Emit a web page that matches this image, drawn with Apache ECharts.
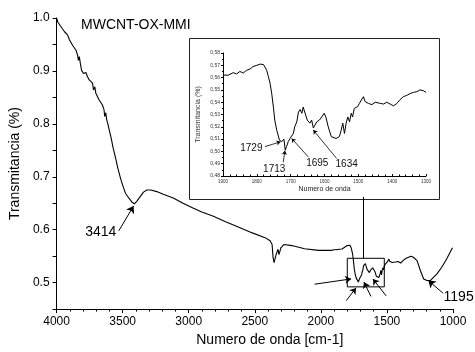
<!DOCTYPE html>
<html>
<head>
<meta charset="utf-8">
<script src="https://cdn.jsdelivr.net/npm/echarts@6/dist/echarts.min.js"></script>
<style>
  html, body { margin: 0; padding: 0; background: #fff; }
  #chart { width: 475px; height: 352px; }
</style>
</head>
<body>
<div id="chart"></div>
<script>
// FTIR spectrum [wavenumber cm-1, transmittance]
const spectrum = [
  [4000, 1.000], [3990, 0.992], [3965, 0.983], [3940, 0.974], [3920, 0.969], [3910, 0.964],
  [3903, 0.959], [3890, 0.958], [3878, 0.948], [3865, 0.950], [3853, 0.939], [3841, 0.930],
  [3835, 0.920], [3828, 0.927], [3820, 0.914], [3811, 0.901], [3796, 0.895], [3785, 0.892],
  [3778, 0.897], [3766, 0.889], [3753, 0.883], [3740, 0.886], [3728, 0.877], [3721, 0.864],
  [3711, 0.870], [3703, 0.858], [3691, 0.855], [3678, 0.845], [3666, 0.842], [3654, 0.836],
  [3641, 0.827], [3636, 0.814], [3628, 0.821], [3621, 0.808], [3611, 0.799], [3604, 0.791],
  [3586, 0.772], [3571, 0.753], [3553, 0.735], [3536, 0.716], [3516, 0.697], [3497, 0.682],
  [3479, 0.669], [3454, 0.660], [3429, 0.652], [3411, 0.649], [3392, 0.654], [3366, 0.663],
  [3342, 0.671], [3317, 0.675], [3287, 0.675], [3242, 0.672], [3192, 0.667], [3117, 0.660],
  [3043, 0.650], [2968, 0.641], [2906, 0.634], [2818, 0.626], [2721, 0.615], [2616, 0.604],
  [2519, 0.594], [2422, 0.585], [2384, 0.579], [2369, 0.572], [2362, 0.548], [2354, 0.538],
  [2339, 0.553], [2324, 0.563], [2317, 0.553], [2302, 0.566], [2280, 0.572], [2220, 0.570],
  [2123, 0.564], [2018, 0.561], [1921, 0.561],
  [1900, 0.562], [1884, 0.562], [1870, 0.564], [1860, 0.563], [1850, 0.565], [1840, 0.5637],
  [1830, 0.566], [1820, 0.567], [1811, 0.569], [1800, 0.570], [1790, 0.571], [1780, 0.5705],
  [1776, 0.572], [1771, 0.566], [1766, 0.561], [1761, 0.5555], [1756, 0.547], [1751, 0.536],
  [1747, 0.5255], [1741, 0.517], [1733, 0.509], [1726, 0.508], [1720, 0.510], [1716, 0.501],
  [1712, 0.504], [1707, 0.508], [1702, 0.5105], [1697, 0.510], [1692, 0.5146], [1688, 0.520],
  [1682, 0.524], [1677, 0.532], [1672, 0.534], [1667, 0.531], [1663, 0.536], [1658, 0.535],
  [1651, 0.5255], [1643, 0.523], [1638, 0.5255], [1633, 0.519], [1623, 0.524], [1615, 0.5255],
  [1608, 0.528], [1601, 0.531], [1596, 0.528], [1589, 0.520], [1580, 0.512], [1576, 0.5105],
  [1566, 0.5105], [1561, 0.5097], [1556, 0.512], [1551, 0.517], [1546, 0.523], [1541, 0.5146],
  [1536, 0.523], [1531, 0.528], [1526, 0.524], [1521, 0.531], [1517, 0.528], [1512, 0.535],
  [1507, 0.534], [1502, 0.5364], [1497, 0.539], [1492, 0.5405], [1485, 0.5445], [1480, 0.5405],
  [1475, 0.542], [1470, 0.539], [1465, 0.5405], [1460, 0.538], [1450, 0.540], [1435, 0.539],
  [1425, 0.5385], [1416, 0.540], [1406, 0.5385], [1396, 0.537], [1386, 0.539], [1377, 0.542],
  [1367, 0.5445], [1357, 0.5455], [1347, 0.547], [1337, 0.548], [1327, 0.5486], [1318, 0.550],
  [1308, 0.5494], [1300, 0.548],
  [1272, 0.5415], [1247, 0.523], [1222, 0.507], [1197, 0.504], [1172, 0.504], [1148, 0.510],
  [1123, 0.516], [1085, 0.529], [1048, 0.5445], [1010, 0.563], [1003, 0.566]
];

// main plot annotations: arrow from label -> peak
const mainPeaks = [
  { label: '3414', from: [3529, 0.598], to: [3417, 0.645] },
  { label: '1195', from: [1075, 0.480], to: [1187, 0.504] }
];
// unlabeled arrows around the zoom box
const boxArrows = [
  { from: [2048, 0.497], to: [1771, 0.507] },
  { from: [1808, 0.466], to: [1734, 0.490] },
  { from: [1621, 0.474], to: [1674, 0.501] },
  { from: [1506, 0.475], to: [1606, 0.507] }
];
// zoomed region shown in the inset
const zoomBox = [[1800, 0.546], [1520, 0.492]];
const linkLine = [[1676, 0.546], [1676, 0.662]];

// inset annotations
const insetPeaks = [
  { label: '1729', from: [1776, 0.5039], to: [1730, 0.5078] },
  { label: '1713', from: [1722, 0.4911], to: [1717, 0.5006] },
  { label: '1695', from: [1648, 0.4955], to: [1697, 0.5105] },
  { label: '1634', from: [1564, 0.4942], to: [1633, 0.5173] }
];

const FONT = 'Liberation Sans, Arial, sans-serif';
const insetData = spectrum.filter((p) => p[0] >= 1290 && p[0] <= 1910);

// where each label sits relative to its arrow tail
const mainLabelPos = {
  '3414': { position: 'left', distance: 2, offset: [0, 1] },
  '1195': { position: 'right', distance: 0, offset: [0, 4] }
};
const insetLabelPos = {
  '1729': { position: 'left', distance: 2, offset: [0, 2] },
  '1713': { position: 'bottom', distance: 1, offset: [-9, 0] },
  '1695': { position: 'bottom', distance: 1, offset: [9, 0] },
  '1634': { position: 'bottom', distance: 0, offset: [10, 0] }
};

const arrowPair = (a, size) => [
  { coord: a.from, symbol: 'none' },
  { coord: a.to, symbol: 'arrow', symbolSize: size }
];

const chart = echarts.init(document.getElementById('chart'), null, { renderer: 'canvas' });

chart.setOption({
  animation: false,
  backgroundColor: '#fff',
  textStyle: { fontFamily: FONT },
  title: {
    text: 'MWCNT-OX-MMI',
    left: 76,
    top: 13,
    textStyle: { fontSize: 14, fontWeight: 'normal', color: '#000', fontFamily: FONT }
  },
  grid: [
    { left: 52, right: 22, top: 18, bottom: 39 },
    { left: 223, right: 49, top: 53, bottom: 176 }
  ],
  graphic: [
    {
      type: 'rect',
      shape: { x: 189.5, y: 38.5, width: 250, height: 161 },
      style: { fill: 'none', stroke: '#222', lineWidth: 1 }
    }
  ],
  xAxis: [
    {
      gridIndex: 0,
      type: 'value',
      min: 1000,
      max: 4000,
      interval: 500,
      inverse: true,
      name: 'Numero de onda [cm-1]',
      nameLocation: 'middle',
      nameGap: 17,
      nameTextStyle: { fontSize: 14, color: '#000', padding: [0, 0, 0, 30] },
      axisLine: { lineStyle: { color: '#000', width: 1 } },
      axisTick: { length: 4, lineStyle: { color: '#000' } },
      minorTick: { show: true, splitNumber: 5, length: 2.5, lineStyle: { color: '#000' } },
      axisLabel: { fontSize: 12, color: '#000', margin: 7, formatter: (v) => String(v) },
      splitLine: { show: false }
    },
    {
      gridIndex: 1,
      type: 'value',
      min: 1300,
      max: 1900,
      interval: 100,
      inverse: true,
      name: 'Numero de onda',
      nameLocation: 'middle',
      nameGap: 10,
      nameTextStyle: { fontSize: 7, color: '#222' },
      axisLine: { lineStyle: { color: '#000', width: 1 } },
      axisTick: { inside: true, length: 2, lineStyle: { color: '#000' } },
      minorTick: { show: true, splitNumber: 5, length: 1.5, lineStyle: { color: '#000' } },
      axisLabel: { fontSize: 4.5, color: '#333', margin: 3, formatter: (v) => String(v) },
      splitLine: { show: false }
    }
  ],
  yAxis: [
    {
      gridIndex: 0,
      type: 'value',
      min: 0.45,
      max: 1.0,
      interval: 0.05,
      name: 'Transmitancia (%)',
      nameLocation: 'middle',
      nameGap: 28,
      nameTextStyle: { fontSize: 14, color: '#000' },
      axisLine: { show: true, lineStyle: { color: '#000', width: 1 } },
      axisTick: { show: true, length: 4, lineStyle: { color: '#000' } },
      axisLabel: {
        fontSize: 12,
        color: '#000',
        margin: 7,
        formatter: (v) => {
          const t = v * 10;
          return Math.abs(t - Math.round(t)) < 1e-6 && v > 0.46 ? v.toFixed(1) : '';
        }
      },
      splitLine: { show: false }
    },
    {
      gridIndex: 1,
      type: 'value',
      min: 0.48,
      max: 0.58,
      interval: 0.01,
      name: 'Transmitancia (%)',
      nameLocation: 'middle',
      nameGap: 21,
      nameTextStyle: { fontSize: 7, color: '#333' },
      axisLine: { show: true, lineStyle: { color: '#000', width: 1 } },
      axisTick: { show: true, length: 2, lineStyle: { color: '#000' } },
      minorTick: { show: true, splitNumber: 2, length: 1, lineStyle: { color: '#000' } },
      axisLabel: {
        fontSize: 5,
        color: '#333',
        margin: 3,
        formatter: (v) => v.toFixed(2).replace('.', ',')
      },
      splitLine: { show: false }
    }
  ],
  series: [
    {
      name: 'main',
      type: 'line',
      xAxisIndex: 0,
      yAxisIndex: 0,
      data: spectrum,
      showSymbol: false,
      lineStyle: { color: '#000', width: 1.1 },
      markArea: {
        silent: true,
        itemStyle: { color: 'rgba(0,0,0,0)', borderColor: '#000', borderWidth: 1 },
        data: [[{ coord: zoomBox[0] }, { coord: zoomBox[1] }]]
      },
      markLine: {
        silent: true,
        symbol: ['none', 'arrow'],
        symbolSize: 6,
        label: { show: false },
        lineStyle: { color: '#000', width: 1, type: 'solid' },
        data: [
          ...mainPeaks.map((a) => arrowPair(a, 7)),
          ...boxArrows.map((a) => arrowPair(a, 6)),
          [{ coord: linkLine[0], symbol: 'none' }, { coord: linkLine[1], symbol: 'none' }]
        ]
      },
      markPoint: {
        silent: true,
        symbol: 'circle',
        symbolSize: 1,
        itemStyle: { color: 'rgba(0,0,0,0)' },
        data: mainPeaks.map((a) => ({
          coord: a.from,
          value: a.label,
          label: {
            show: true,
            formatter: a.label,
            fontSize: 14,
            color: '#000',
            ...mainLabelPos[a.label]
          }
        }))
      }
    },
    {
      name: 'inset',
      type: 'line',
      xAxisIndex: 1,
      yAxisIndex: 1,
      data: insetData,
      showSymbol: false,
      lineStyle: { color: '#000', width: 1 },
      markLine: {
        silent: true,
        symbol: ['none', 'arrow'],
        symbolSize: 4,
        label: { show: false },
        lineStyle: { color: '#000', width: 0.8, type: 'solid' },
        data: insetPeaks.map((a) => arrowPair(a, 4))
      },
      markPoint: {
        silent: true,
        symbol: 'circle',
        symbolSize: 1,
        itemStyle: { color: 'rgba(0,0,0,0)' },
        data: insetPeaks.map((a) => ({
          coord: a.from,
          value: a.label,
          label: {
            show: true,
            formatter: a.label,
            fontSize: 10,
            color: '#111',
            ...insetLabelPos[a.label]
          }
        }))
      }
    }
  ]
});
</script>
</body>
</html>
